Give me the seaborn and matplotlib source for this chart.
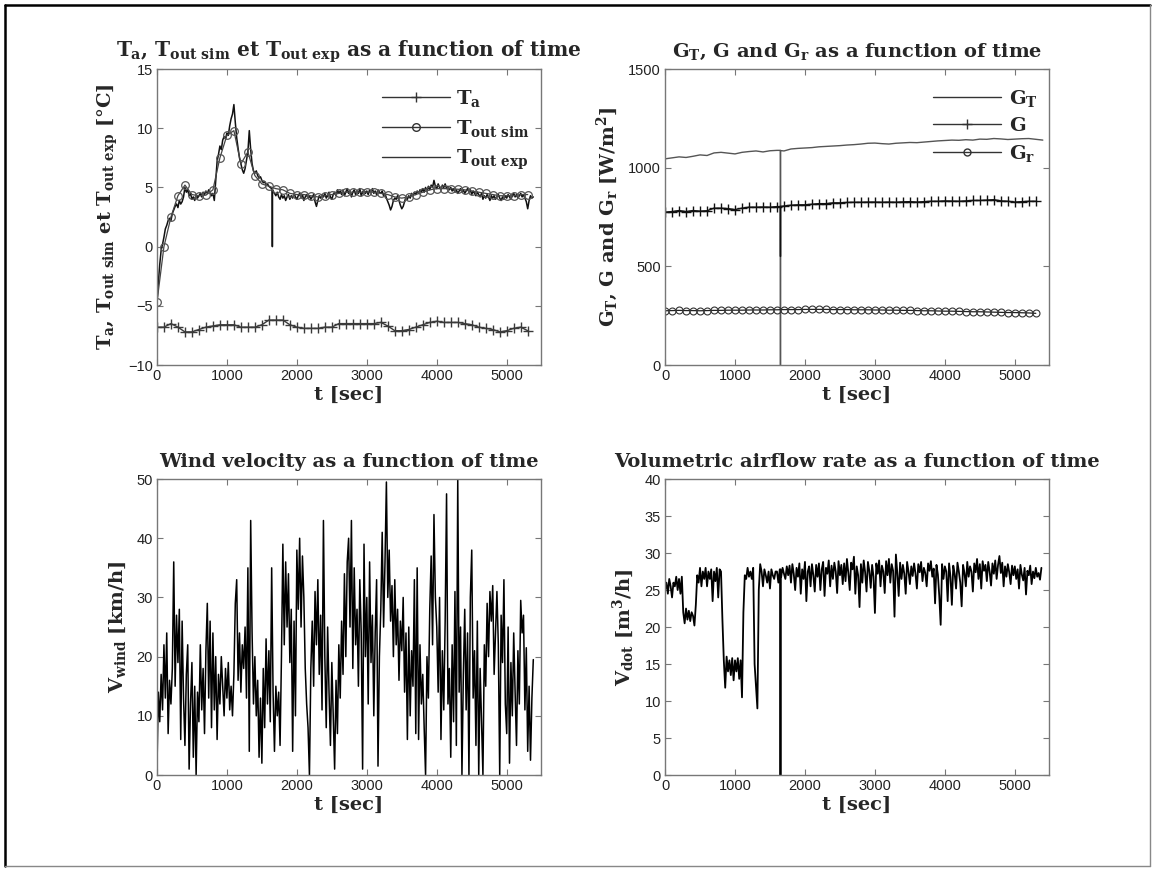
import numpy as np
import matplotlib
matplotlib.use("Agg")
import matplotlib.pyplot as plt
import seaborn as sns
from matplotlib.lines import Line2D

# ---------------------------------------------------------------- data
# fast signals sampled every 20 s (0 .. 5380 s)
t_fast = np.arange(0, 5400, 20)
# slow signals sampled every 100 s
t_slow = np.arange(0, 5400, 100)
t_gt = np.arange(0, 5500, 100)

# sensor glitch around t = 1650 s (vertical drop in three panels)
glitch_t = [1649, 1650, 1651]
t_out_exp_glitch = [4.9, 0.0, 4.8]
g_t_glitch = [1088, 0, 1087]
g_glitch = [803, 550, 804]
vdot_glitch = [27.8, 0.0, 27.5]

t_a = [-6.8, -6.8, -6.5, -6.8, -7.2, -7.2, -7.0, -6.8, -6.7, -6.6,
       -6.6, -6.6, -6.8, -6.8, -6.8, -6.6, -6.2, -6.2, -6.2, -6.6,
       -6.8, -6.9, -6.9, -6.9, -6.8, -6.8, -6.5, -6.5, -6.5, -6.5,
       -6.5, -6.5, -6.4, -6.7, -7.1, -7.1, -7.0, -6.8, -6.6, -6.4,
       -6.3, -6.4, -6.4, -6.4, -6.5, -6.6, -6.8, -6.9, -7.0, -7.2,
       -7.1, -6.9, -6.8, -7.1]

t_out_sim = [-4.7, 0.0, 2.5, 4.3, 5.2, 4.4, 4.3, 4.35, 4.8, 7.5,
             9.4, 9.8, 7.0, 8.0, 6.0, 5.3, 5.1, 4.9, 4.8, 4.5,
             4.4, 4.4, 4.3, 4.2, 4.3, 4.4, 4.5, 4.6, 4.6, 4.6,
             4.6, 4.6, 4.5, 4.4, 4.2, 4.1, 4.2, 4.4, 4.6, 4.8,
             4.9, 4.9, 4.9, 4.85, 4.8, 4.7, 4.6, 4.5, 4.4, 4.3,
             4.3, 4.3, 4.4, 4.4]

t_out_exp = [-4.8, -3.0, -1.5, -0.3, 0.2, 0.8, 1.5, 1.8, 2.2, 2.4,
             2.2, 2.8, 3.1, 3.4, 3.6, 3.3, 3.9, 3.6, 3.8, 4.2,
             5.0, 4.6, 4.8, 4.3, 4.5, 4.0, 4.2, 3.9, 4.4, 4.1,
             4.3, 4.5, 4.2, 4.6, 4.4, 4.7, 4.5, 4.8, 4.6, 4.3,
             4.5, 3.9, 5.5, 7.2, 7.8, 8.5, 8.2, 9.0, 9.3, 9.1,
             9.6, 9.4, 10.2, 10.8, 11.2, 12.0, 10.5, 9.2, 8.3, 7.5,
             7.0, 6.5, 6.2, 6.6, 7.3, 8.0, 9.8, 8.2, 7.0, 6.4,
             6.2, 6.4, 6.0, 5.8, 5.9, 5.6, 5.4, 5.5, 5.2, 5.3,
             5.1, 5.0, 4.9, 4.7, 4.5, 4.3, 4.6, 4.2, 4.0, 4.4,
             4.1, 4.3, 3.9, 4.2, 4.4, 4.0, 4.3, 4.1, 4.5, 4.2,
             4.0, 4.3, 4.5, 4.1, 4.4, 3.9, 4.2, 4.4, 4.1, 4.3,
             4.0, 4.2, 4.4, 3.8, 3.4, 3.9, 4.3, 4.1, 4.4, 4.2,
             4.5, 4.1, 4.3, 4.6, 4.2, 4.0, 4.4, 4.6, 4.3, 4.8,
             4.5, 4.7, 4.4, 4.8, 4.3, 4.6, 4.9, 4.5, 4.7, 4.2,
             4.6, 4.8, 4.4, 4.7, 4.5, 4.9, 4.3, 4.6, 4.8, 4.5,
             4.7, 4.4, 4.8, 4.6, 4.9, 4.5, 4.7, 4.4, 4.8, 4.6,
             4.5, 4.7, 4.3, 4.5, 4.1, 3.8, 3.5, 3.1, 3.4, 3.9,
             4.1, 4.0, 4.3, 3.9, 3.5, 3.2, 3.4, 3.8, 4.2, 4.0,
             4.3, 4.1, 4.5, 4.3, 4.6, 4.4, 4.7, 4.5, 4.8, 4.6,
             4.9, 4.6, 5.0, 4.7, 5.1, 4.8, 5.2, 5.0, 5.6, 5.1,
             4.9, 5.3, 5.0, 4.8, 5.2, 5.0, 5.3, 4.9, 5.1, 4.8,
             5.0, 4.7, 4.9, 4.6, 4.8, 4.5, 4.7, 4.9, 4.6, 4.8,
             4.5, 4.7, 4.9, 4.6, 4.8, 4.4, 4.7, 4.5, 4.3, 4.6,
             4.4, 4.2, 4.5, 4.0, 4.3, 4.1, 4.4, 4.2, 3.9, 4.3,
             4.1, 4.3, 4.0, 4.2, 4.4, 4.1, 3.9, 4.2, 4.0, 4.3,
             4.1, 4.4, 4.2, 4.0, 4.3, 4.5, 4.2, 4.4, 4.1, 4.3,
             4.5, 4.2, 4.4, 4.1, 3.8, 3.2, 3.9, 4.3, 4.1, 4.2]

g_t = [1045, 1050, 1055, 1052, 1058, 1065, 1062, 1075, 1078, 1074,
       1070, 1078, 1082, 1085, 1080, 1086, 1088, 1085, 1095, 1098,
       1100, 1102, 1106, 1108, 1110, 1112, 1115, 1117, 1120, 1124,
       1125, 1122, 1120, 1124, 1126, 1128, 1127, 1130, 1133, 1136,
       1138, 1140, 1139, 1142, 1140, 1145, 1144, 1148, 1146, 1143,
       1145, 1147, 1148, 1144, 1140]

g = [775, 778, 783, 778, 783, 780, 782, 795, 795, 793,
     788, 795, 800, 800, 801, 800, 803, 806, 810, 812,
     812, 815, 818, 818, 822, 822, 824, 825, 825, 826,
     826, 825, 826, 825, 827, 828, 826, 828, 830, 830,
     832, 831, 830, 832, 834, 834, 836, 838, 832, 830,
     826, 828, 830, 830]

g_r = [275, 276, 277, 276, 276, 275, 276, 277, 277, 278,
       278, 278, 279, 279, 279, 280, 280, 281, 281, 281,
       282, 282, 282, 282, 281, 281, 281, 280, 280, 280,
       279, 279, 278, 278, 277, 277, 276, 275, 275, 274,
       273, 273, 272, 271, 270, 270, 269, 268, 267, 266,
       266, 265, 264, 262]

v_wind = [1, 14, 9, 17, 11, 22, 13, 24, 7, 16,
          12, 18, 36, 15, 27, 19, 28, 6, 26, 13,
          5, 17, 22, 1, 12, 19, 3, 15, 0, 14,
          9, 22, 11, 18, 7, 21, 29, 13, 26, 8,
          24, 11, 20, 6, 17, 12, 20, 15, 10, 18,
          13, 19, 11, 15, 10, 17, 29, 33, 16, 24,
          14, 22, 18, 25, 13, 35, 4, 43, 24, 12,
          20, 10, 16, 3, 13, 2, 18, 8, 23, 12,
          21, 9, 35, 14, 4, 15, 10, 14, 5, 20,
          39, 22, 36, 25, 34, 19, 28, 4, 26, 10,
          38, 28, 40, 25, 37, 30, 18, 12, 8, 0,
          18, 26, 15, 31, 22, 33, 17, 27, 11, 43,
          20, 8, 25, 14, 5, 19, 10, 1, 16, 7,
          22, 13, 26, 17, 34, 20, 36, 40, 25, 43,
          18, 35, 22, 28, 15, 33, 24, 1, 39, 20,
          30, 12, 36, 19, 27, 10, 24, 33, 1.5, 20,
          28, 41, 25, 36, 49.5, 30, 38, 26, 32, 20,
          33, 22, 28, 16, 26, 21, 30, 14, 24, 6,
          25, 10, 21, 15, 33, 7, 35, 6, 22, 12,
          17, 8, 0, 20, 13, 28, 37, 22, 44, 30,
          25, 14, 30, 6, 21, 11, 26, 47.5, 12, 18,
          3, 22, 9, 31, 5, 50, 14, 25, 0, 17,
          28, 11, 24, 0, 30, 38, 13, 21, 5, 26,
          0, 18, 9, 0, 22, 15, 29, 20, 31, 26,
          32, 17, 24, 31, 22, 0, 27, 19, 33, 12,
          7, 25, 2, 19, 10, 24, 14, 5, 21, 12,
          29.5, 24, 27, 11, 21.5, 4, 15, 2.5, 13, 19.5]

v_dot = [25, 26, 24.5, 26.5, 25.5, 24, 26, 25.5, 26.8, 25,
         26.5, 24.5, 26.8, 22, 20.5, 22.5, 21, 22.2, 20.8, 22,
         21.5, 20.2, 23, 27, 26, 28, 25.5, 27.5, 26.5, 28,
         25.5, 27.5, 26.5, 27.8, 23.5, 27.5, 26.2, 28, 24, 27.8,
         27.5, 21, 15.5, 11.8, 16, 14, 15.5, 13.5, 15.8, 12.8,
         15.5, 14, 15.8, 13, 15.5, 10.5, 22, 27, 26.5, 28,
         26.8, 27.5, 26.5, 28, 15, 12, 9, 25, 28.5, 27.5,
         25.5, 27.8, 27, 26, 27.5, 25.2, 27.8, 27, 26.5, 27.5,
         27.5, 26, 27.8, 26.8, 28, 27.2, 26.5, 28.2, 27, 28.3,
         26, 28.5, 27.2, 25, 28, 26.8, 28.6, 24.5, 27.8, 26.5,
         28.8, 23.5, 27.5, 28.2, 25.5, 28.5, 27, 24.8, 28.4, 26.8,
         28.6, 25, 27.8, 28.8, 24.2, 28, 27.2, 29, 25.5, 28.3,
         26.5, 28.7, 27.5, 24.6, 28.9, 27, 28.4, 25.8, 28.6, 26.2,
         29.2, 27.3, 25, 28.7, 27.8, 29.5, 24.5, 28.2, 27, 22.7,
         28.5, 26, 29, 27.4, 24.8, 28.8, 27.6, 25.3, 28.4, 26.8,
         21.9, 28.6, 27.2, 29, 25.5, 28.3, 27.5, 24.6, 28.9, 27,
         29.2, 26, 28.5, 27.6, 21.4, 29.8, 27.3, 24.2, 28.7, 26.5,
         28.4, 27.2, 24.5, 28.8, 27.5, 25.8, 28.2, 26.9, 28.6, 27.2,
         25.2, 28.5, 27.4, 28.8, 26.2, 28, 27.3, 25.5, 28.6, 27.6,
         28.9, 26.8, 27.9, 23.2, 28.4, 27.1, 24.2, 20.3, 28.5, 26.5,
         28.2, 27.5, 23.5, 28.6, 26.8, 23, 28.3, 27.2, 25.2, 28.7,
         27.5, 26, 22.8, 28.4, 27.3, 25.5, 28.8, 26.8, 28.2, 27.5,
         24.8, 28.6, 27.4, 29.2, 26.5, 28.5, 25.2, 28.9, 27.6, 28.4,
         26.2, 28.8, 27.5, 25.6, 28.6, 27.2, 29, 26.5, 28.4, 29.6,
         27.3, 28.7, 25.5, 28.2, 26.8, 28.5, 27.4, 25.8, 28.3, 27,
         28.2, 26.5, 27.8, 25.2, 28.4, 27.1, 26.3, 28, 24.4, 27.6,
         27, 28.3, 25.8, 27.5, 26.6, 28, 26.8, 27.3, 26.4, 28]

x_ticks = [0, 1000, 2000, 3000, 4000, 5000]
x_max = 5490

SERIF = "DejaVu Serif"
TICK_FONT = "Liberation Sans"


def add_glitch(t, y, t_g, y_g):
    t = np.asarray(t, dtype=float)
    y = np.asarray(y, dtype=float)
    i = np.searchsorted(t, t_g[0])
    return np.insert(t, i, t_g), np.insert(y, i, y_g)


def style_axes(ax, ylim, yticks, title, ylabel, title_size=14):
    ax.set_xlim(0, x_max)
    ax.set_ylim(*ylim)
    ax.set_xticks(x_ticks)
    ax.set_yticks(yticks)
    ax.tick_params(direction="in", top=True, right=True, length=4,
                   width=0.8, color="#777777", labelsize=10.5,
                   labelcolor="#222222", pad=3)
    for lab in ax.get_xticklabels() + ax.get_yticklabels():
        lab.set_family(TICK_FONT)
    for sp in ax.spines.values():
        sp.set_visible(True)
        sp.set_color("#777777")
        sp.set_linewidth(1.0)
    ax.set_title(title, fontsize=title_size, fontweight="bold", family=SERIF, pad=9)
    ax.set_xlabel("t [sec]", fontsize=14, fontweight="bold", family=SERIF, labelpad=2)
    ax.set_ylabel(ylabel, fontsize=14, fontweight="bold", family=SERIF, labelpad=6)


def main():
    sns.set_style("ticks")
    plt.rcParams["mathtext.fontset"] = "custom"
    plt.rcParams["mathtext.rm"] = "DejaVu Serif:bold"
    plt.rcParams["mathtext.it"] = "DejaVu Serif:bold"
    plt.rcParams["mathtext.bf"] = "DejaVu Serif:bold"
    plt.rcParams["font.family"] = [SERIF, "DejaVu Sans"]

    fig = plt.figure(figsize=(11.54, 8.71), dpi=100)
    ax_t = fig.add_axes([0.136, 0.5809, 0.3328, 0.3398])
    ax_g = fig.add_axes([0.5763, 0.5809, 0.3328, 0.3398])
    ax_w = fig.add_axes([0.136, 0.1102, 0.3328, 0.3398])
    ax_v = fig.add_axes([0.5763, 0.1102, 0.3328, 0.3398])
    leg_font = {"size": 14, "weight": "bold", "family": SERIF}

    # ---- temperatures
    sns.lineplot(x=t_slow, y=t_a, ax=ax_t, color="#3a3a3a", lw=1.0,
                 marker="+", markersize=7, markeredgecolor="#3a3a3a",
                 markeredgewidth=1.0, estimator=None, sort=False)
    te_t, te_y = add_glitch(t_fast, t_out_exp, glitch_t, t_out_exp_glitch)
    sns.lineplot(x=te_t, y=te_y, ax=ax_t, color="#111111", lw=1.1,
                 estimator=None, sort=False)
    sns.lineplot(x=t_slow, y=t_out_sim, ax=ax_t, color="#444444", lw=0.9,
                 marker="o", markersize=5.5, markerfacecolor="none",
                 markeredgecolor="#555555", markeredgewidth=0.9,
                 estimator=None, sort=False)
    style_axes(ax_t, (-10, 15), [-10, -5, 0, 5, 10, 15],
               r"$T_a$, $T_{out\ sim}$ et $T_{out\ exp}$ as a function of time",
               r"$T_a$, $T_{out\ sim}$ et $T_{out\ exp}$ [°C]", title_size=14.5)
    h_t = [Line2D([], [], color="#333333", lw=1.0, marker="+", markersize=7),
           Line2D([], [], color="#333333", lw=1.0, marker="o", markersize=5.5,
                  markerfacecolor="none"),
           Line2D([], [], color="#333333", lw=1.0)]
    ax_t.legend(h_t, [r"$T_a$", r"$T_{out\ sim}$", r"$T_{out\ exp}$"],
                loc="upper right", bbox_to_anchor=(1.0, 0.975), frameon=False,
                handlelength=3.5, handletextpad=0.3, labelspacing=0.45,
                borderaxespad=0.2, prop=leg_font)

    # ---- irradiance
    gt_t, gt_y = add_glitch(t_gt, g_t, glitch_t, g_t_glitch)
    sns.lineplot(x=gt_t, y=gt_y, ax=ax_g, color="#555555", lw=1.0,
                 estimator=None, sort=False)
    g_tt, g_yy = add_glitch(t_slow, g, glitch_t, g_glitch)
    sns.lineplot(x=g_tt, y=g_yy, ax=ax_g, color="#111111", lw=1.0,
                 estimator=None, sort=False)
    sns.lineplot(x=t_slow, y=g, ax=ax_g, color="#111111", linestyle="",
                 marker="+", markersize=7, markeredgecolor="#111111",
                 markeredgewidth=1.0, estimator=None, sort=False)
    sns.lineplot(x=t_slow, y=g_r, ax=ax_g, color="#222222", lw=0.9,
                 marker="o", markersize=5, markerfacecolor="none",
                 markeredgecolor="#333333", markeredgewidth=0.8,
                 estimator=None, sort=False)
    style_axes(ax_g, (0, 1500), [0, 500, 1000, 1500],
               r"$G_T$, G and $G_r$ as a function of time",
               r"$G_T$, G and $G_r$ [W/m$^2$]")
    h_g = [Line2D([], [], color="#333333", lw=1.0),
           Line2D([], [], color="#333333", lw=1.0, marker="+", markersize=7),
           Line2D([], [], color="#333333", lw=1.0, marker="o", markersize=5,
                  markerfacecolor="none")]
    ax_g.legend(h_g, [r"$G_T$", "G", r"$G_r$"],
                loc="upper right", bbox_to_anchor=(1.0, 0.975), frameon=False,
                handlelength=3.5, handletextpad=0.4, labelspacing=0.4,
                borderaxespad=0.2, prop=leg_font)

    # ---- wind
    sns.lineplot(x=t_fast, y=v_wind, ax=ax_w, color="black", lw=1.1,
                 estimator=None, sort=False)
    style_axes(ax_w, (0, 50), [0, 10, 20, 30, 40, 50],
               "Wind velocity as a function of time",
               r"$V_{wind}$ [km/h]")

    # ---- airflow
    vd_t, vd_y = add_glitch(t_fast, v_dot, glitch_t, vdot_glitch)
    sns.lineplot(x=vd_t, y=vd_y, ax=ax_v, color="black", lw=1.3,
                 estimator=None, sort=False)
    style_axes(ax_v, (0, 40), [0, 5, 10, 15, 20, 25, 30, 35, 40],
               "Volumetric airflow rate as a function of time",
               r"$V_{dot}$ [m$^3$/h]")

    # outer frame of the exported figure
    fig.add_artist(Line2D([0.0043, 0.0043], [0.0057, 0.9943], color="black",
                          lw=1.8, transform=fig.transFigure))
    fig.add_artist(Line2D([0.0043, 0.9965], [0.9943, 0.9943], color="black",
                          lw=1.8, transform=fig.transFigure))
    fig.add_artist(Line2D([0.0043, 0.9965], [0.0057, 0.0057], color="#888888",
                          lw=1.0, transform=fig.transFigure))
    fig.add_artist(Line2D([0.9965, 0.9965], [0.0057, 0.9943], color="#888888",
                          lw=1.0, transform=fig.transFigure))

    fig.savefig("out.png", dpi=100, facecolor="white")


if __name__ == "__main__":
    main()
